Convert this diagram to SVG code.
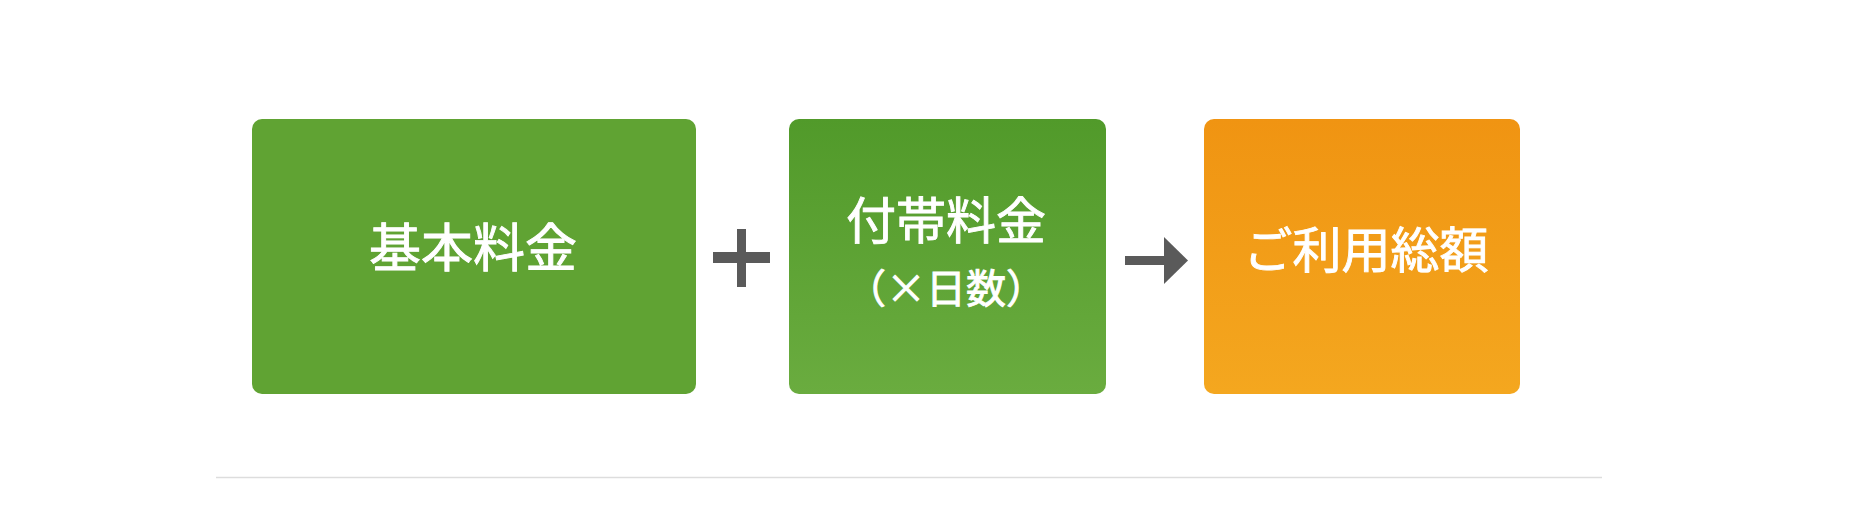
<svg xmlns="http://www.w3.org/2000/svg" width="1869" height="521" viewBox="0 0 1869 521">
  <style>
    .lbl { font-family: "Noto Sans CJK JP", "Noto Sans CJK SC", sans-serif; font-weight: 400; fill: #ffffff; stroke: #ffffff; stroke-width: 0.9; text-anchor: middle; }
    .op { fill: #5a5a5a; }
  </style>
  <defs>
    <linearGradient id="gGreen" x1="0" y1="0" x2="0" y2="1">
      <stop offset="0" stop-color="#519a2a"/>
      <stop offset="1" stop-color="#6aac3f"/>
    </linearGradient>
    <linearGradient id="gOrange" x1="0" y1="0" x2="0" y2="1">
      <stop offset="0" stop-color="#f09412"/>
      <stop offset="1" stop-color="#f4a71f"/>
    </linearGradient>
  </defs>
  <rect width="1869" height="521" fill="#ffffff"/>

  <g id="node-basic">
    <rect x="252" y="119" width="444" height="275" rx="10" fill="#60a333"/>
    <text class="lbl" x="473" y="267" font-size="52">基本料金</text>
  </g>

  <g id="node-extra">
    <rect x="789" y="119" width="317" height="275" rx="10" fill="url(#gGreen)"/>
    <text class="lbl" x="946" y="239" font-size="50">付帯料金</text>
    <text class="lbl" x="946" y="303" font-size="40">（×日数）</text>
  </g>

  <g id="node-total">
    <rect x="1204" y="119" width="316" height="275" rx="10" fill="url(#gOrange)"/>
    <text class="lbl" x="1366" y="268" font-size="49">ご利用総額</text>
  </g>

  <g id="connectors">
    <g id="plus">
      <rect class="op" x="737" y="229" width="9" height="58"/>
      <rect class="op" x="713" y="252" width="57" height="11"/>
    </g>
    <g id="arrow">
      <rect class="op" x="1125" y="256" width="42" height="9"/>
      <polygon class="op" points="1164,237 1188,260.5 1164,284"/>
    </g>
  </g>

  <line x1="216" y1="477.5" x2="1602" y2="477.5" stroke="#dddddd" stroke-width="1.5"/>
</svg>
